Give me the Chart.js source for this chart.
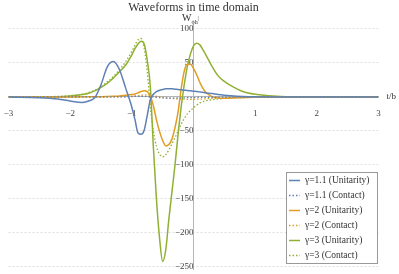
<!DOCTYPE html>
<html>
<head>
<meta charset="utf-8">
<script src="https://cdn.jsdelivr.net/npm/chart.js@4"></script>
<style>
  html, body { margin: 0; padding: 0; background: #fff; }
  #box { width: 399px; height: 274px; }
</style>
</head>
<body>
<div id="box"><canvas id="chart-waves"></canvas></div>
<script>
// время t/b (общая сетка для всех кривых)
const tValues = [-3, -2.5, -2.2, -2.0, -1.8, -1.7, -1.6, -1.5, -1.4, -1.3, -1.2, -1.1, -1.0, -0.95, -0.9, -0.85, -0.8, -0.75, -0.7, -0.65, -0.6, -0.55, -0.5, -0.45, -0.4, -0.35, -0.3, -0.25, -0.2, -0.15, -0.1, -0.05, 0, 0.05, 0.1, 0.15, 0.2, 0.3, 0.4, 0.5, 0.6, 0.8, 1.0, 1.5, 2, 3];

const gamma11Unitarity = [0, -1, -3, -6, -8, -6, -1, 18, 44, 52, 40, 13, -15, -33, -53, -55, -49, -27, -4, 4, 8, 10, 11, 12, 12, 12, 11.5, 11, 10.5, 10, 9.5, 9, 8.5, 8, 7.5, 7, 6, 5, 3.5, 2.5, 1.8, 0.8, 0.3, 0, 0, 0];
const gamma11Contact = [0, 0, 0, 0, 0, 0, 0, 0, 0, 0, 0, 0.3, 0.6, 0.8, 1, 1, 1, 0.8, 0.5, 0, -0.5, -1, -1.3, -1.5, -1.6, -1.6, -1.5, -1.4, -1.3, -1.2, -1.1, -1, -0.9, -0.8, -0.7, -0.6, -0.5, -0.4, -0.3, -0.2, -0.15, -0.1, 0, 0, 0, 0];
const gamma2Unitarity = [0, 0, 0, 0, 0.2, 0.3, 0.4, 0.5, 0.7, 1, 1.5, 2.5, 3.5, 4.5, 6, 8, 9, 8, 1, -13, -34, -51, -64, -72, -70, -62, -45, -22, 12, 38, 48, 48, 42, 33, 22, 13, 7, 0.5, -1.5, -2, -1.5, -1, -0.5, 0, 0, 0];
const gamma2Contact = [0, 0, 0, 0, 0, 0, 0, 0, 0, 0, 0.3, 0.6, 1, 1.5, 2, 2.5, 3, 3, 2.5, 2, 1, 0.3, -0.5, -1, -1.5, -2, -2.5, -2.8, -3, -3.2, -3.4, -3.5, -3.5, -3.4, -3.2, -3, -2.7, -2.2, -1.7, -1.2, -0.9, -0.4, -0.2, 0, 0, 0];
const gamma3Unitarity = [0, 0.2, 0.5, 1.5, 3.5, 5.5, 9, 14, 20, 28, 37, 47, 62, 71, 78, 82, 78, 54, 15, -75, -152, -208, -242, -225, -180, -140, -100, -55, -15, 18, 45, 63, 75, 79, 77, 70, 62, 45, 31, 23, 17, 8, 4, 0.5, 0, 0];
const gamma3Contact = [0, 0.3, 0.8, 2, 4, 6.5, 10, 15, 22, 30, 40, 52, 67, 76, 84, 86, 72, 38, -15, -50, -73, -84, -88, -85, -78, -69, -60, -50, -40, -32, -25, -20, -16, -12, -9, -7, -5.5, -4, -3, -2, -1.5, -0.7, -0.3, 0, 0, 0];

const seriesLabels = ['γ=1.1 (Unitarity)', 'γ=1.1 (Contact)', 'γ=2 (Unitarity)', 'γ=2 (Contact)', 'γ=3 (Unitarity)', 'γ=3 (Contact)'];
const seriesValues = [gamma11Unitarity, gamma11Contact, gamma2Unitarity, gamma2Contact, gamma3Unitarity, gamma3Contact];
const seriesColors = ['#5E81B5', '#5E81B5', '#E19C24', '#E19C24', '#8FB032', '#8FB032'];

// деления осей
const xTickValues = [-3, -2, -1, 1, 2, 3];
const yTickValues = [100, 50, -50, -100, -150, -200, -250];

const SERIF = "'Liberation Serif', 'DejaVu Serif', serif";

function minusSign(v) {
  return String(v).replace('-', '\u2212');
}

function toPoints(values) {
  return tValues.map((t, i) => ({x: t, y: values[i]}));
}

// оси в центре не должны раздвигать область графика
function noAxisPadding(axis) {
  axis.paddingTop = 0;
  axis.paddingBottom = 0;
  axis.paddingLeft = 0;
  axis.paddingRight = 0;
}

const datasets = seriesValues.map((vals, i) => ({
  label: seriesLabels[i],
  data: toPoints(vals),
  borderColor: seriesColors[i],
  backgroundColor: seriesColors[i],
  borderWidth: i % 2 === 0 ? 1.5 : 1.3,
  borderDash: i % 2 === 0 ? [] : [1.5, 2],
  pointRadius: 0,
  cubicInterpolationMode: 'monotone',
  fill: false,
}));

// подписи осей и легенда рисуются поверх графика
const extrasPlugin = {
  id: 'extras',
  afterDraw(chart) {
    const ctx = chart.ctx;
    const xs = chart.scales.x;
    const ys = chart.scales.y;
    const x0 = xs.getPixelForValue(0);
    const y0 = ys.getPixelForValue(0);
    ctx.save();
    ctx.fillStyle = '#333';
    ctx.textBaseline = 'middle';
    // подпись оси y
    ctx.font = '10px ' + SERIF;
    ctx.textAlign = 'right';
    ctx.fillText('W', x0 - 2, 18);
    ctx.font = '6px ' + SERIF;
    ctx.textAlign = 'left';
    ctx.fillText('ϕh', x0 - 2, 22);
    ctx.fillText('|', x0 + 4, 18);
    // подпись оси x
    ctx.font = '9px ' + SERIF;
    ctx.fillText('t/b', xs.right + 8, y0);

    // легенда
    const lx = 286, ly = 172, lw = 91, lh = 91;
    ctx.fillStyle = '#fff';
    ctx.fillRect(lx, ly, lw, lh);
    ctx.strokeStyle = '#999';
    ctx.lineWidth = 1;
    ctx.strokeRect(lx + 0.5, ly + 0.5, lw, lh);
    ctx.font = '9.5px ' + SERIF;
    chart.data.datasets.forEach((ds, i) => {
      const ry = ly + 8.5 + i * 15;
      ctx.beginPath();
      ctx.strokeStyle = ds.borderColor;
      ctx.lineWidth = ds.borderWidth;
      ctx.setLineDash(ds.borderDash);
      ctx.moveTo(lx + 3, ry);
      ctx.lineTo(lx + 14, ry);
      ctx.stroke();
      ctx.setLineDash([]);
      ctx.fillStyle = '#333';
      ctx.fillText(ds.label, lx + 19, ry);
    });
    ctx.restore();
  }
};

const ctxWaves = document.getElementById('chart-waves');

new Chart(ctxWaves, {
  type: 'line',
  data: { datasets: datasets },
  options: {
    responsive: true,
    maintainAspectRatio: false,
    animation: false,
    layout: { padding: { left: 8.5, right: 20.5, top: 0, bottom: 5 } },
    plugins: {
      legend: { display: false },
      tooltip: { enabled: false },
      title: {
        display: true,
        text: 'Waveforms in time domain',
        color: '#333',
        font: { family: SERIF, size: 12, weight: 'normal' },
        padding: { top: 1, bottom: 9.5 },
      },
    },
    scales: {
      x: {
        type: 'linear',
        min: -3,
        max: 3,
        position: { y: 0 },
        afterBuildTicks: axis => {
          axis.ticks = xTickValues.map(v => ({value: v}));
        },
        afterFit: noAxisPadding,
        grid: { display: false },
        border: { color: '#b5b5b5', width: 1 },
        ticks: {
          maxRotation: 0,
          padding: 3,
          color: '#444',
          font: { family: SERIF, size: 9 },
          callback: v => minusSign(v),
        },
      },
      y: {
        type: 'linear',
        min: -253,
        max: 106,
        position: { x: 0 },
        afterBuildTicks: axis => {
          axis.ticks = yTickValues.map(v => ({value: v}));
        },
        afterFit: noAxisPadding,
        grid: {
          drawTicks: false,
          color: '#dedede',
          lineWidth: 1,
        },
        border: { color: '#b5b5b5', width: 1, dash: [2, 2] },
        ticks: {
          padding: 3,
          color: '#444',
          font: { family: SERIF, size: 9 },
          callback: v => minusSign(v),
        },
      },
    },
  },
  plugins: [extrasPlugin],
});
</script>
</body>
</html>
